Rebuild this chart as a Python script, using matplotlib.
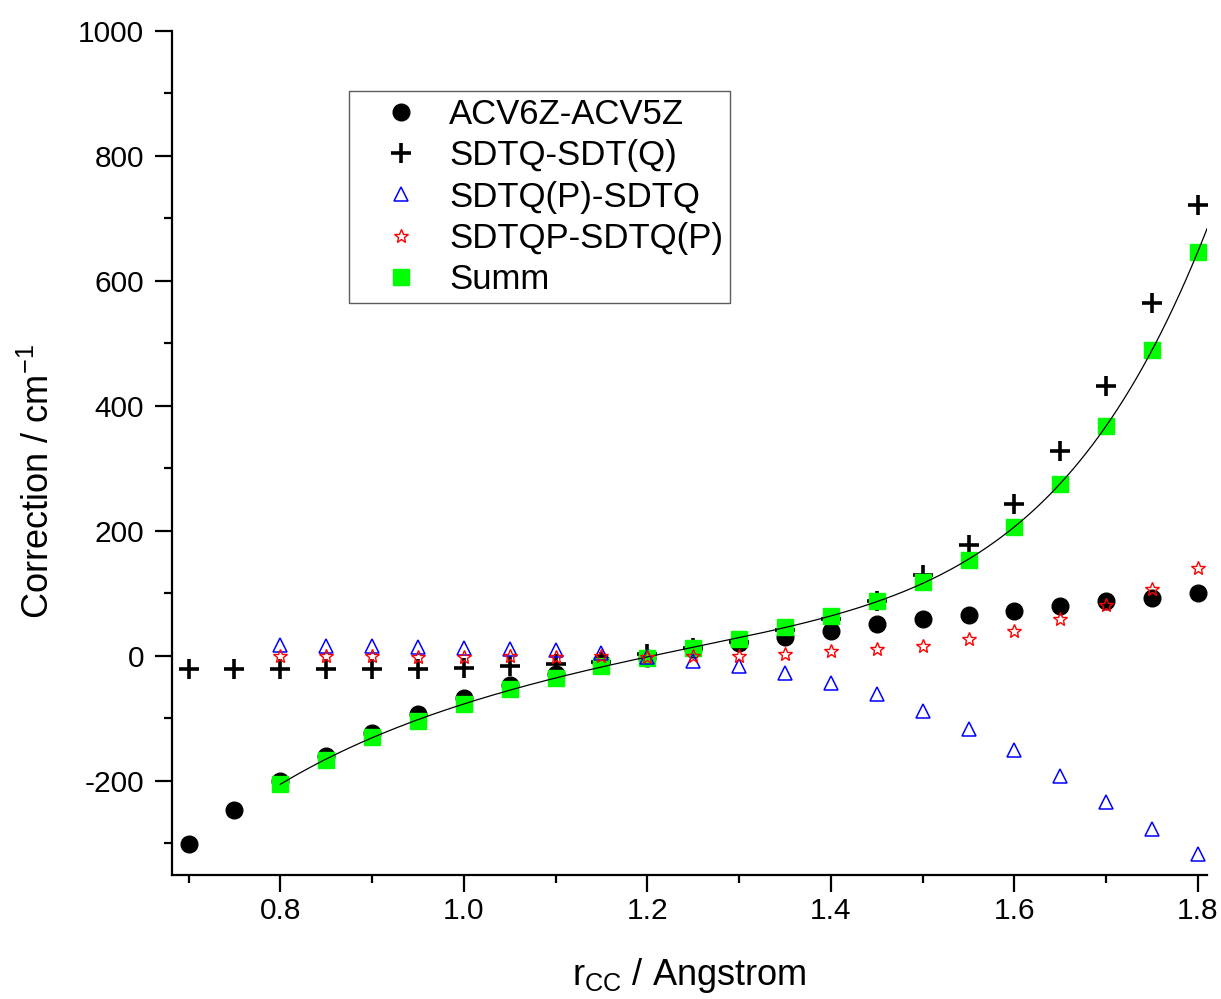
import numpy as np
import matplotlib
matplotlib.use("Agg")
import matplotlib.pyplot as plt
from matplotlib.ticker import MultipleLocator

plt.rcParams['font.family'] = ['Liberation Sans', 'DejaVu Sans']
plt.rcParams['mathtext.fontset'] = 'custom'
plt.rcParams['mathtext.rm'] = 'Liberation Sans'
plt.rcParams['mathtext.it'] = 'Liberation Sans'
plt.rcParams['axes.unicode_minus'] = False

# ---- data ----
r_all = [0.70, 0.75, 0.80, 0.85, 0.90, 0.95, 1.00, 1.05, 1.10, 1.15, 1.20, 1.25,
         1.30, 1.35, 1.40, 1.45, 1.50, 1.55, 1.60, 1.65, 1.70, 1.75, 1.80]
acv = [-302, -247, -200, -161, -123, -94, -67, -47, -29, -10, -3, 11,
       21, 30, 40, 50, 58, 65, 72, 79, 87, 92, 100]
sdtq = [-21, -21, -21, -21, -21, -22, -20, -17, -13, -10, 3, 12,
        22, 41, 59, 88, 130, 178, 243, 327, 432, 564, 722]

r_sub = [0.80, 0.85, 0.90, 0.95, 1.00, 1.05, 1.10, 1.15, 1.20, 1.25,
         1.30, 1.35, 1.40, 1.45, 1.50, 1.55, 1.60, 1.65, 1.70, 1.75, 1.80]
sdtqp = [17, 16, 15, 14, 12, 11, 9, 4, -2, -9,
         -16, -28, -43, -62, -88, -117, -151, -192, -234, -278, -317]
sdtqP = [-1, -1, -1, -2, -2, -1, -2, -1, -2, -1,
         0, 3, 7, 11, 16, 27, 40, 58, 82, 107, 140]
summ = [-205, -167, -130, -104, -77, -54, -35, -17, -3, 13,
        27, 46, 63, 87, 118, 154, 206, 275, 367, 490, 647]

labels = ['ACV6Z-ACV5Z', 'SDTQ-SDT(Q)', 'SDTQ(P)-SDTQ', 'SDTQP-SDTQ(P)', 'Summ']

fig = plt.figure(figsize=(12.21, 9.99), dpi=100)
ax = fig.add_axes([0.1409, 0.1241, 0.8477, 0.8449])

h1, = ax.plot(r_all, acv, 'o', color='black', ms=12, zorder=3, label=labels[0])
h2, = ax.plot(r_all, sdtq, '+', color='black', ms=15, mew=2.6, zorder=4, label=labels[1])
h5, = ax.plot(r_sub, summ, 's', color='#00FF00', ms=11.5, mec='#00FF00', zorder=5, label=labels[4])

# fitted curve through Summ
coef = np.polyfit(r_sub, summ, 5)
xf = np.linspace(r_sub[0], 1.81, 300)
ax.plot(xf, np.polyval(coef, xf), color='black', lw=0.9, zorder=6)

h3, = ax.plot(r_sub, sdtqp, '^', color='#0000FF', ms=9.5, mfc='none', mew=1.1, zorder=7, label=labels[2])
h4, = ax.plot(r_sub, sdtqP, '*', color='#FF0000', ms=10, mfc='none', mew=1.0, zorder=8, label=labels[3])

ax.set_xlim(0.682, 1.81)
ax.set_ylim(-351, 1000)

ax.spines['top'].set_visible(False)
ax.spines['right'].set_visible(False)
for s in ['left', 'bottom']:
    ax.spines[s].set_linewidth(1.6)

ax.xaxis.set_major_locator(MultipleLocator(0.2))
ax.xaxis.set_minor_locator(MultipleLocator(0.1))
ax.yaxis.set_major_locator(MultipleLocator(200))
ax.yaxis.set_minor_locator(MultipleLocator(100))
ax.tick_params(which='major', direction='out', length=12, width=1.6, labelsize=21.5)
ax.tick_params(which='minor', direction='out', length=6, width=1.6)
ax.tick_params(axis='x', which='major', pad=4)
ax.tick_params(axis='y', which='major', pad=8)

ax.set_xlabel(r'r$_{\mathrm{CC}}$ / Angstrom', fontsize=26)
ax.set_ylabel(r'Correction / cm$^{\mathrm{-1}}$', fontsize=26)
ax.xaxis.set_label_coords(0.5, -0.096)
ax.yaxis.set_label_coords(-0.111, 0.466)

leg = ax.legend([h1, h2, h3, h4, h5], labels, loc='upper left',
                bbox_to_anchor=(0.171, 0.929), borderaxespad=0, fontsize=25,
                frameon=True, fancybox=False, handlelength=2.6, handletextpad=0.08,
                borderpad=0.2, labelspacing=0.24, numpoints=1)
leg.get_frame().set_edgecolor('#333333')
leg.get_frame().set_linewidth(1.0)

fig.savefig('out.png', dpi=100)
